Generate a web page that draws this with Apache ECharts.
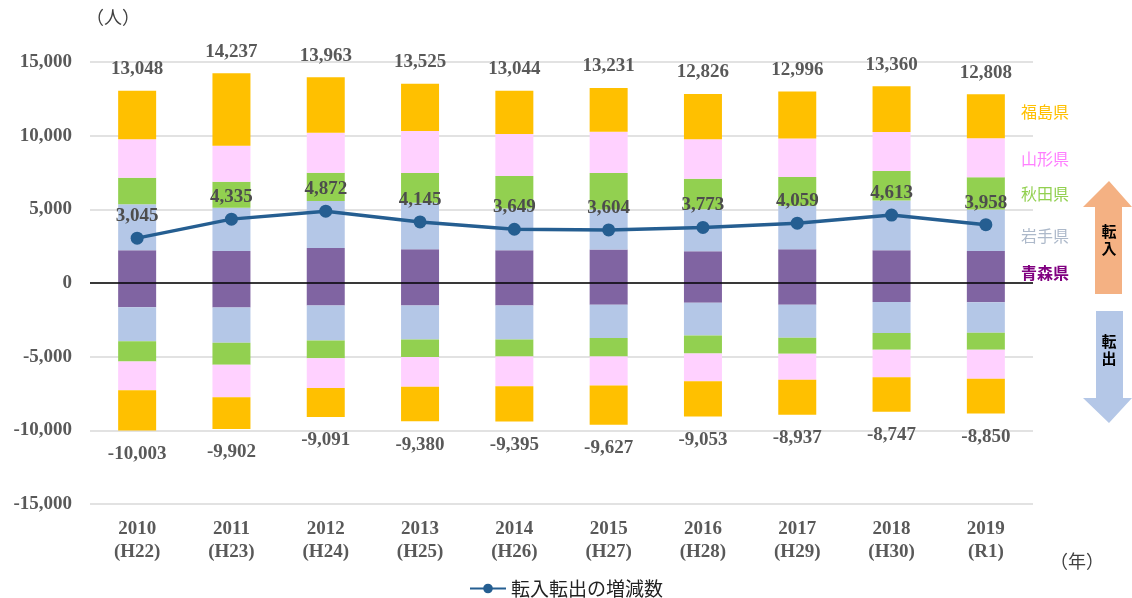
<!DOCTYPE html>
<html>
<head>
<meta charset="utf-8">
<script src="https://cdn.jsdelivr.net/npm/echarts@6/dist/echarts.min.js"></script>
<style>html,body{margin:0;padding:0;background:#fff;}#c{width:1132px;height:598px;}</style>
</head>
<body>
<div id="c"></div>
<script>
const years = ['2010','2011','2012','2013','2014','2015','2016','2017','2018','2019'];
const eras = ['H22','H23','H24','H25','H26','H27','H28','H29','H30','R1'];
const prefectures = ['青森県','岩手県','秋田県','山形県','福島県'];
// 転入 (in-migration) per prefecture
const inAomori    = [2220, 2180, 2380, 2290, 2220, 2270, 2160, 2290, 2220, 2180];
const inIwate     = [3130, 2920, 3180, 3150, 2840, 2720, 2850, 2950, 3380, 2810];
const inAkita     = [1790, 1770, 1920, 2020, 2200, 2470, 2060, 1950, 2000, 2180];
const inYamagata  = [2615, 2450, 2720, 2860, 2860, 2810, 2685, 2610, 2650, 2650];
const inFukushima = [3293, 4917, 3763, 3205, 2924, 2961, 3071, 3196, 3110, 2988];
// 転出 (out-migration) per prefecture
const outAomori    = [-1650, -1670, -1520, -1520, -1520, -1470, -1340, -1470, -1290, -1310];
const outIwate     = [-2310, -2380, -2380, -2310, -2310, -2270, -2220, -2250, -2110, -2060];
const outAkita     = [-1360, -1500, -1200, -1200, -1160, -1250, -1220, -1080, -1130, -1160];
const outYamagata  = [-1960, -2210, -2020, -2020, -2020, -1970, -1890, -1770, -1860, -1970];
const outFukushima = [-2723, -2142, -1971, -2330, -2385, -2667, -2383, -2367, -2357, -2350];
// totals
const totalIn  = [13048, 14237, 13963, 13525, 13044, 13231, 12826, 12996, 13360, 12808];
const totalOut = [-10003, -9902, -9091, -9380, -9395, -9627, -9053, -8937, -8747, -8850];
const netChange = [3045, 4335, 4872, 4145, 3649, 3604, 3773, 4059, 4613, 3958];

const colors = ['#8064A2', '#B4C7E7', '#92D050', '#FFD1FF', '#FFC000'];
const labelColors = ['#800080', '#ADB9CA', '#92D050', '#FF7FFF', '#FFC000'];
const serif = '"Liberation Serif", "Times New Roman", serif';
const fmt = v => Number(v).toLocaleString('en-US');

const inData = [inAomori, inIwate, inAkita, inYamagata, inFukushima];
const outData = [outAomori, outIwate, outAkita, outYamagata, outFukushima];

const series = [];
inData.forEach((d, i) => {
  const s = {
    name: prefectures[i] + '転入', type: 'bar', stack: 'x', data: d,
    barWidth: 38, itemStyle: { color: colors[i] }, z: 2
  };
  if (i === 4) {
    s.label = { show: true, position: 'top', distance: 12, color: '#595959',
      fontFamily: serif, fontWeight: 'bold', fontSize: 19,
      formatter: p => fmt(totalIn[p.dataIndex]) };
  }
  if (i === 0) {
    s.markLine = { silent: true, symbol: 'none', label: { show: false },
      lineStyle: { color: '#000', width: 1.5, type: 'solid' }, data: [{ yAxis: 0 }] };
  }
  series.push(s);
});
outData.forEach((d, i) => {
  const s = {
    name: prefectures[i] + '転出', type: 'bar', stack: 'x', data: d,
    barWidth: 38, itemStyle: { color: colors[i] }, z: 2
  };
  if (i === 4) {
    s.label = { show: true, position: 'bottom', distance: 14, color: '#595959',
      fontFamily: serif, fontWeight: 'bold', fontSize: 19,
      formatter: p => fmt(totalOut[p.dataIndex]) };
  }
  series.push(s);
});
series.push({
  name: '転入転出の増減数', type: 'line', data: netChange, z: 5,
  symbol: 'circle', symbolSize: 13,
  lineStyle: { color: '#255E91', width: 3.5 },
  itemStyle: { color: '#255E91' },
  label: { show: true, position: 'top', distance: 6, color: '#4D4D4D',
    fontFamily: serif, fontWeight: 'bold', fontSize: 19,
    formatter: p => fmt(p.value) }
});

const chart = echarts.init(document.getElementById('c'));
const graphics = [
  { type: 'text', left: 86, top: 8, style: { text: '（人）', fontSize: 18, fill: '#404040', fontFamily: '"Noto Sans CJK JP"' } },
  { type: 'text', left: 1050, top: 552, style: { text: '（年）', fontSize: 18, fill: '#404040', fontFamily: '"Noto Sans CJK JP"' } },
  // arrows
  { type: 'polygon', shape: { points: [[1109,181],[1132,207],[1122,207],[1122,294],[1095,294],[1095,207],[1083,207]] }, style: { fill: '#F4B183' } },
  { type: 'polygon', shape: { points: [[1096,311],[1123,311],[1123,398],[1132,398],[1109,423],[1083,398],[1096,398]] }, style: { fill: '#B4C7E7' } },
  { type: 'text', x: 1109, y: 240, style: { text: '転\n入', fontSize: 15, fill: '#000', fontWeight: 'bold', lineHeight: 17, align: 'center', verticalAlign: 'middle', fontFamily: '"Noto Sans CJK JP"' } },
  { type: 'text', x: 1109, y: 350, style: { text: '転\n出', fontSize: 15, fill: '#000', fontWeight: 'bold', lineHeight: 17, align: 'center', verticalAlign: 'middle', fontFamily: '"Noto Sans CJK JP"' } }
];
const prefY = [273, 236, 194, 159, 112];
prefectures.forEach((p, i) => {
  graphics.push({ type: 'text', x: 1021, y: prefY[i], style: { text: p, fontSize: 16, fill: labelColors[i], verticalAlign: 'middle', fontFamily: '"Noto Sans CJK JP"', fontWeight: i === 0 ? 'bold' : 'normal' } });
});

chart.setOption({
  animation: false,
  backgroundColor: '#fff',
  grid: { left: 90, right: 99, top: 62, bottom: 94, containLabel: false },
  legend: {
    data: ['転入転出の増減数'], top: 574, left: 'center',
    itemWidth: 36, itemHeight: 12, itemGap: 4,
    textStyle: { fontSize: 19, color: '#222', fontFamily: '"Noto Sans CJK JP"' }
  },
  xAxis: {
    type: 'category', data: years,
    axisLine: { show: false }, axisTick: { show: false },
    axisLabel: {
      margin: 14, interval: 0,
      formatter: (v, i) => v + '\n(' + eras[i] + ')',
      color: '#595959', fontFamily: serif, fontWeight: 'bold', fontSize: 19, lineHeight: 23
    }
  },
  yAxis: {
    type: 'value', min: -15000, max: 15000, interval: 5000,
    axisLine: { show: false }, axisTick: { show: false },
    axisLabel: { margin: 18, color: '#595959', fontFamily: serif, fontWeight: 'bold', fontSize: 19, formatter: v => fmt(v) },
    splitLine: { lineStyle: { color: '#D9D9D9', width: 1.5 } }
  },
  graphic: graphics,
  series: series
});
</script>
</body>
</html>
